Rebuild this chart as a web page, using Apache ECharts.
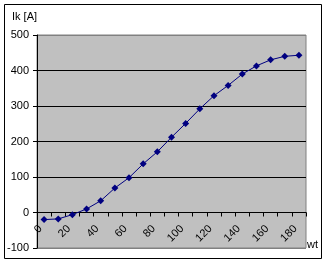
<!DOCTYPE html>
<html><head><meta charset="utf-8">
<script src="https://cdn.jsdelivr.net/npm/echarts@6/dist/echarts.min.js"></script>
<style>html,body{margin:0;padding:0;background:#fff}#c{width:328px;height:263px}</style>
</head><body><div id="c"></div>
<script>
const categories = ['0','10','20','30','40','50','60','70','80','90','100','110','120','130','140','150','160','170','180'];
const ikValues = [-20,-18,-6,10,33,69,98,137,171,212,251,292,329,358,390,413,430,440,443];
const yTicks = {min:-100, max:500, interval:100};
const yName = 'Ik [A]';
const xName = 'wt';

const font = 'Liberation Sans, Arial, sans-serif';
const gridTop = 35, gridBottom = 15, H = 263;
const plotH = H - gridTop - gridBottom;
// place the category axis where y = 0 lies
const zeroOffset = -plotH * (0 - yTicks.min) / (yTicks.max - yTicks.min);
const chart = echarts.init(document.getElementById('c'), null, {renderer:'canvas'});
chart.setOption({
  animation:false,
  backgroundColor:'#fff',
  grid:{left:37, top:gridTop, right:22, bottom:gridBottom, show:true, backgroundColor:'#C0C0C0', borderColor:'#808080', borderWidth:1, containLabel:false, outerBoundsMode:'none'},
  graphic:[
    {type:'rect', shape:{x:4.5,y:4.5,width:317,height:254}, style:{fill:'none', stroke:'#000', lineWidth:1}, z:-1},
    {type:'text', left:12, top:11, style:{text:yName, font:'11px '+font, fill:'#000'}},
    {type:'text', left:307, top:239, style:{text:xName, font:'11px '+font, fill:'#000'}}
  ],
  xAxis:{
    type:'category', data:categories, boundaryGap:true, position:'bottom', offset:zeroOffset,
    axisLine:{onZero:false, lineStyle:{color:'#000', width:1}},
    axisTick:{show:true, interval:0, length:4, inside:false, lineStyle:{color:'#000'}},
    axisLabel:{show:true, interval:1, rotate:45, margin:11, padding:[0,5,0,0], fontSize:11, fontFamily:font, color:'#000', hideOverlap:false},
    splitLine:{show:false}
  },
  yAxis:{
    type:'value', min:yTicks.min, max:yTicks.max, interval:yTicks.interval,
    axisLine:{show:true, lineStyle:{color:'#000'}},
    axisTick:{show:true, length:4, lineStyle:{color:'#000'}},
    axisLabel:{fontSize:11, fontFamily:font, color:'#000', margin:8},
    splitLine:{show:true, lineStyle:{color:['#808080','#000','#000','#000','#000','#000','#808080'], width:1}}
  },
  series:[{
    type:'line', data:ikValues, symbol:'diamond', symbolSize:7,
    lineStyle:{color:'#000080', width:1}, itemStyle:{color:'#000080'}
  }]
});
</script></body></html>
